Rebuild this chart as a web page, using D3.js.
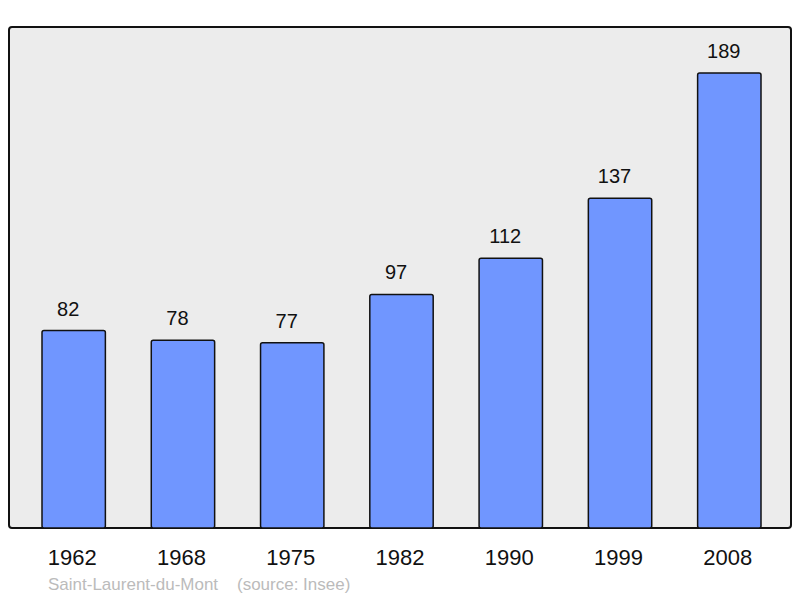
<!DOCTYPE html>
<html><head><meta charset="utf-8">
<script src="https://cdn.jsdelivr.net/npm/d3@7"></script>
<style>body{margin:0;background:#fff}svg{display:block;font-family:"Liberation Sans",Arial,sans-serif}</style>
</head><body>
<svg id="c" width="800" height="598"></svg>
<script>
const years = ["1962","1968","1975","1982","1990","1999","2008"];
const population = [82,78,77,97,112,137,189];
const footerPlace = "Saint-Laurent-du-Mont";
const footerSource = "(source: Insee)";

const svg = d3.select("#c");
svg.append("rect").attr("x",9).attr("y",27).attr("width",782).attr("height",501)
  .attr("rx",3).attr("fill","#ececec").attr("stroke","#111").attr("stroke-width",2);

const x = d3.scaleBand().domain(years).range([42,761]).paddingInner(0.42).paddingOuter(0);
const y = d3.scaleLinear().domain([0,189]).range([528,73]);

svg.selectAll("rect.bar").data(population).join("rect").attr("class","bar")
  .attr("x",(d,i)=>x(years[i])).attr("y",d=>y(d))
  .attr("width",x.bandwidth()).attr("height",d=>y(0)-y(d))
  .attr("rx",2).attr("fill","#7096ff").attr("stroke","#111").attr("stroke-width",1.5);

svg.selectAll("text.val").data(population).join("text").attr("class","val")
  .attr("x",(d,i)=>x(years[i])+x.bandwidth()/2-5.5).attr("y",d=>y(d)-15)
  .attr("text-anchor","middle").attr("font-size",20).attr("fill","#111").text(d=>d);

const axis = d3.axisBottom(x).tickSize(0).tickPadding(0);
const g = svg.append("g").attr("transform","translate(0,528)").call(axis);
g.select(".domain").remove();
g.selectAll("text").attr("font-size",22).attr("fill","#111").attr("dy",0).attr("y",37)
  .attr("dx",-1.5)
  .attr("font-family","'Liberation Sans',Arial,sans-serif");

svg.append("text").attr("x",48).attr("y",590).attr("font-size",17).attr("fill","#bbb")
  .attr("xml:space","preserve").text(footerPlace + "    " + footerSource);
</script>
</body></html>
